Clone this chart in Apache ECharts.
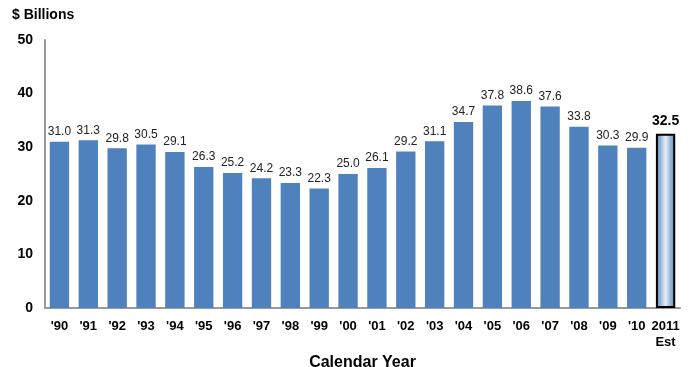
<!DOCTYPE html>
<html><head><meta charset="utf-8">
<script src="https://cdn.jsdelivr.net/npm/echarts@6/dist/echarts.min.js"></script>
<style>html,body{margin:0;padding:0;background:#fff}#c{width:692px;height:367px}</style>
</head><body><div id="c"></div>
<script>
var categories = ["'90","'91","'92","'93","'94","'95","'96","'97","'98","'99","'00","'01","'02","'03","'04","'05","'06","'07","'08","'09","'10","2011\nEst"];
var values = [31.0,31.3,29.8,30.5,29.1,26.3,25.2,24.2,23.3,22.3,25.0,26.1,29.2,31.1,34.7,37.8,38.6,37.6,33.8,30.3,29.9,32.5];
var yTicks = [0,10,20,30,40,50];

var blue = '#4F81BD';
var data = values.map(function(v,i){
  if (i === values.length-1) {
    return {
      value: v,
      itemStyle: {
        color: new echarts.graphic.LinearGradient(0,0,1,0,[
          {offset:0,color:'#4F81BD'},{offset:0.5,color:'#E6EEF8'},{offset:1,color:'#4F81BD'}
        ]),
        borderColor:'#000', borderWidth:2
      },
      label: {fontWeight:'bold', fontSize:14, color:'#000', distance:6}
    };
  }
  return v;
});

var chart = echarts.init(document.getElementById('c'));
chart.setOption({
  animation:false,
  grid:{left:45,right:12,top:40,bottom:59,containLabel:false,outerBoundsMode:'none'},
  graphic:[
    {type:'text',left:12,top:8,style:{text:'$ Billions',font:'bold 14px Arial, Liberation Sans, sans-serif',fill:'#000'}}
  ],
  xAxis:{
    type:'category', data:categories,
    name:'Calendar Year', nameLocation:'middle', nameGap:40,
    nameTextStyle:{fontFamily:'Liberation Sans, Arial, sans-serif',fontWeight:'bold',fontSize:16,color:'#000'},
    axisLine:{lineStyle:{color:'#999',width:2}},
    axisTick:{show:false},
    axisLabel:{fontFamily:'Liberation Sans, Arial, sans-serif',fontWeight:'bold',fontSize:13,color:'#000',margin:10,interval:0,lineHeight:16}
  },
  yAxis:{
    type:'value', min:0, max:50, interval:10,
    axisLine:{show:true,lineStyle:{color:'#999',width:2}},
    axisTick:{show:false},
    splitLine:{show:false},
    axisLabel:{fontFamily:'Liberation Sans, Arial, sans-serif',fontWeight:'bold',fontSize:14,color:'#000',margin:12,
      formatter:function(v){return yTicks.indexOf(v)>=0?String(v):'';}}
  },
  series:[{
    type:'bar', data:data, barWidth:'67%',
    itemStyle:{color:blue},
    label:{show:true,position:'top',distance:4,fontFamily:'Liberation Sans, Arial, sans-serif',fontSize:12,color:'#222',
      formatter:function(p){return p.value.toFixed(1);}}
  }]
});
</script></body></html>
